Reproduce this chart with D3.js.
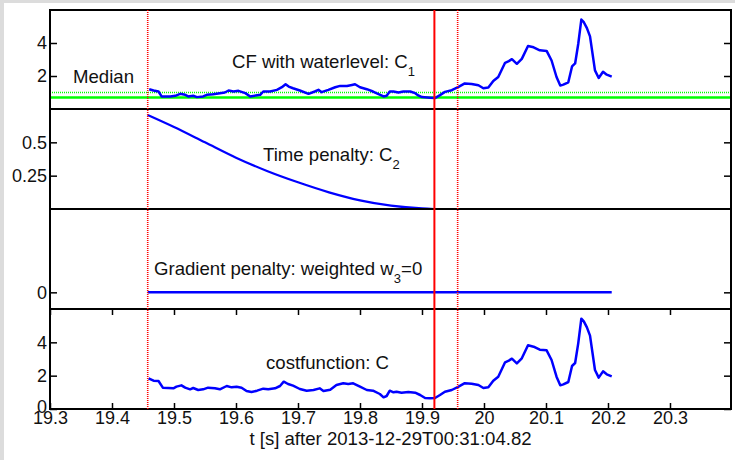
<!DOCTYPE html>
<html>
  <head>
    <title>costfunction</title>
    <script src="https://cdn.jsdelivr.net/npm/d3@7/dist/d3.min.js"></script>
    <style>
      body {
        margin: 0;
        background: white;
      }
      svg text {
        font-family: "Liberation Sans", Arial, Helvetica, sans-serif;
        fill: #111;
      }
    </style>
  </head>
  <body>
    <script>
    // x axis ticks
    var xTicks = [19.3, 19.4, 19.5, 19.6, 19.7, 19.8, 19.9, 20, 20.1, 20.2, 20.3];
    var xTickLabels = ["19.3", "19.4", "19.5", "19.6", "19.7", "19.8", "19.9", "20", "20.1", "20.2", "20.3"];

    // vertical red markers: start, chosen point, end
    var markerTimes = [19.4576, 19.92, 19.9575];
    var markerSolid = [false, true, false];

    // horizontal green levels in panel 1 (median, waterlevel)
    var levelValues = [0.70, 1.0];
    var levelDotted = [false, true];

    // C1 before the chosen point
    var c1HeadT = [19.460, 19.467, 19.475, 19.480, 19.494, 19.502, 19.510, 19.518, 19.523, 19.531, 19.537, 19.547, 19.553, 19.563, 19.574, 19.582, 19.588, 19.596, 19.604, 19.615, 19.623, 19.639, 19.644, 19.655, 19.666, 19.674, 19.680, 19.685, 19.692, 19.703, 19.717, 19.727, 19.733, 19.738, 19.749, 19.760, 19.768, 19.779, 19.787, 19.792, 19.800, 19.811, 19.821, 19.829, 19.838, 19.843, 19.848, 19.854, 19.862, 19.870, 19.881, 19.889, 19.894, 19.900, 19.913];
    var c1HeadV = [1.20, 1.12, 1.06, 0.76, 0.76, 0.80, 0.92, 0.86, 0.76, 0.80, 0.72, 0.76, 0.86, 0.90, 0.96, 1.00, 1.12, 1.06, 1.10, 0.96, 0.76, 0.86, 1.06, 1.06, 1.16, 1.32, 1.50, 1.36, 1.26, 1.12, 0.92, 1.06, 1.16, 1.02, 1.16, 1.32, 1.40, 1.40, 1.46, 1.50, 1.32, 1.20, 1.06, 0.92, 0.76, 0.80, 1.06, 1.06, 1.00, 1.06, 1.06, 0.96, 0.82, 0.72, 0.68];

    // costfunction C before the chosen point
    var costHeadT = [19.459, 19.467, 19.475, 19.482, 19.499, 19.504, 19.512, 19.518, 19.526, 19.531, 19.539, 19.547, 19.555, 19.566, 19.574, 19.585, 19.593, 19.601, 19.609, 19.617, 19.625, 19.634, 19.644, 19.652, 19.663, 19.671, 19.677, 19.684, 19.692, 19.703, 19.714, 19.725, 19.735, 19.741, 19.752, 19.762, 19.773, 19.781, 19.789, 19.800, 19.811, 19.821, 19.832, 19.838, 19.843, 19.848, 19.854, 19.859, 19.867, 19.878, 19.889, 19.897, 19.905, 19.913];
    var costHeadV = [1.84, 1.70, 1.68, 1.28, 1.24, 1.34, 1.42, 1.28, 1.18, 1.26, 1.14, 1.18, 1.28, 1.24, 1.18, 1.38, 1.30, 1.34, 1.28, 1.08, 1.02, 1.10, 1.22, 1.18, 1.24, 1.38, 1.64, 1.50, 1.40, 1.20, 1.10, 1.14, 1.24, 1.08, 1.16, 1.44, 1.54, 1.50, 1.54, 1.34, 1.14, 1.10, 0.90, 0.70, 0.78, 1.10, 1.00, 1.04, 0.98, 1.02, 0.98, 0.84, 0.66, 0.64];

    // after the chosen point C == C1
    var tailT = [19.921, 19.929, 19.937, 19.948, 19.959, 19.969, 19.980, 19.991, 19.999, 20.007, 20.015, 20.023, 20.034, 20.040, 20.045, 20.053, 20.061, 20.071, 20.080, 20.090, 20.101, 20.109, 20.117, 20.123, 20.128, 20.136, 20.142, 20.147, 20.152, 20.157, 20.161, 20.166, 20.171, 20.179, 20.185, 20.192, 20.198, 20.206];
    var tailV = [0.66, 0.84, 1.04, 1.14, 1.34, 1.55, 1.52, 1.44, 1.26, 1.30, 1.70, 1.94, 2.80, 2.90, 3.02, 2.74, 3.04, 3.82, 3.74, 3.56, 3.52, 2.94, 1.94, 1.42, 1.48, 1.62, 2.58, 2.76, 3.94, 5.42, 5.26, 4.90, 4.40, 2.34, 1.88, 2.26, 2.08, 1.96];

    // time penalty C2
    var c2T = [19.4576, 19.50, 19.55, 19.60, 19.65, 19.70, 19.75, 19.80, 19.85, 19.90, 19.92];
    var c2V = [0.705, 0.615, 0.50, 0.385, 0.285, 0.20, 0.125, 0.065, 0.025, 0.004, 0];

    // gradient penalty (weighted zero)
    var gradT = [19.4576, 20.206];
    var gradV = [0, 0];

    var W = 735, H = 460;
    var left = 50, right = 731;

    var svg = d3.select("body").append("svg")
      .attr("width", W)
      .attr("height", H);

    svg.append("rect").attr("width", W).attr("height", H).attr("fill", "white");
    svg.append("rect").attr("width", W).attr("height", 3).attr("fill", "#dcdcdc");
    svg.append("rect").attr("width", 4).attr("height", H).attr("fill", "#dcdcdc");

    var x = d3.scaleLinear().domain([19.3, 20.3984]).range([left, right]);

    var panels = [
      {top: 10, bottom: 109, domain: [0, 6], ticks: [2, 4], fmt: String},
      {top: 109, bottom: 209, domain: [0, 0.75], ticks: [0.25, 0.5], fmt: String},
      {top: 209, bottom: 309, domain: [-0.2, 1], ticks: [0], fmt: String},
      {top: 309, bottom: 409, domain: [0, 6], ticks: [0, 2, 4], fmt: String}
    ];
    panels.forEach(function (p) {
      p.y = d3.scaleLinear().domain(p.domain).range([p.bottom, p.top]);
    });

    function zip(t, v) {
      return t.map(function (d, i) { return [d, v[i]]; });
    }

    function drawLine(p, data, width, curve) {
      var line = d3.line()
        .x(function (d) { return x(d[0]); })
        .y(function (d) { return p.y(d[1]); })
        .curve(curve || d3.curveLinear);
      svg.append("path")
        .datum(data)
        .attr("d", line)
        .attr("fill", "none")
        .attr("stroke", "#0000ff")
        .attr("stroke-width", width)
        .attr("stroke-linejoin", "round");
    }

    // green levels in panel 1
    levelValues.forEach(function (v, i) {
      svg.append("line")
        .attr("x1", left).attr("x2", right)
        .attr("y1", panels[0].y(v)).attr("y2", panels[0].y(v))
        .attr("stroke", "#00ff00")
        .attr("stroke-width", levelDotted[i] ? 1.5 : 2.5)
        .attr("stroke-dasharray", levelDotted[i] ? "1,1" : null);
    });

    drawLine(panels[0], zip(c1HeadT, c1HeadV).concat(zip(tailT, tailV)), 2.5);
    drawLine(panels[1], zip(c2T, c2V), 2.2, d3.curveMonotoneX);
    drawLine(panels[2], zip(gradT, gradV), 2.5);
    drawLine(panels[3], zip(costHeadT, costHeadV).concat(zip(tailT, tailV)), 2.5);

    // panel frames and y ticks
    panels.forEach(function (p, k) {
      svg.append("rect")
        .attr("x", left).attr("y", p.top)
        .attr("width", right - left).attr("height", p.bottom - p.top)
        .attr("fill", "none").attr("stroke", "black").attr("stroke-width", 2);

      var ly = d3.axisLeft(p.y).tickValues(p.ticks).tickSize(-7).tickPadding(3).tickFormat(p.fmt);
      var gl = svg.append("g").attr("transform", "translate(" + left + ",0)").call(ly);
      var ry = d3.axisRight(p.y).tickValues(p.ticks).tickSize(-7).tickFormat("");
      var gr = svg.append("g").attr("transform", "translate(" + right + ",0)").call(ry);
      [gl, gr].forEach(function (g) {
        g.select(".domain").remove();
        g.selectAll(".tick line").attr("stroke", "black").attr("stroke-width", 1.5);
      });
      gl.selectAll("text").attr("font-size", 18).attr("fill", "#111")
        .attr("font-family", "'Liberation Sans', Arial, sans-serif");
      // bottom "0" sits in the corner, lift it a little
      if (k === 3) gl.selectAll("text").filter(function (d) { return d === 0; }).attr("dy", "0.2em");
    });

    // x ticks on bottom panel, inward at top and bottom
    var p4 = panels[3];
    var xb = d3.axisBottom(x).tickValues(xTicks).tickSize(-6).tickPadding(2)
      .tickFormat(function (d, i) { return xTickLabels[i]; });
    var gxb = svg.append("g").attr("transform", "translate(0," + p4.bottom + ")").call(xb);
    var xt = d3.axisTop(x).tickValues(xTicks).tickSize(-6).tickFormat("");
    var gxt = svg.append("g").attr("transform", "translate(0," + p4.top + ")").call(xt);
    [gxb, gxt].forEach(function (g) {
      g.select(".domain").remove();
      g.selectAll(".tick line").attr("stroke", "black").attr("stroke-width", 1.5);
    });
    gxb.selectAll("text").attr("font-size", 18).attr("fill", "#111")
      .attr("font-family", "'Liberation Sans', Arial, sans-serif");

    // red markers
    markerTimes.forEach(function (t, i) {
      svg.append("line")
        .attr("x1", x(t)).attr("x2", x(t))
        .attr("y1", panels[0].top).attr("y2", p4.bottom)
        .attr("stroke", "#ff0000")
        .attr("stroke-width", markerSolid[i] ? 2 : 1.6)
        .attr("stroke-dasharray", markerSolid[i] ? null : "1,1");
    });

    // labels
    function label(xp, yp, main, sub, rest) {
      var t = svg.append("text").attr("x", xp).attr("y", yp).attr("font-size", 18.6);
      t.append("tspan").text(main);
      if (sub) {
        t.append("tspan").attr("dy", 8).attr("font-size", 13).text(sub);
        if (rest) t.append("tspan").attr("dy", -8).text(rest);
      }
      return t;
    }
    label(73, 83, "Median");
    label(232, 68, "CF with waterlevel: C", "1");
    label(263, 161, "Time penalty: C", "2");
    label(154, 275, "Gradient penalty: weighted w", "3", "=0");
    label(266, 369, "costfunction: C");

    svg.append("text")
      .attr("x", (left + right) / 2).attr("y", 445)
      .attr("text-anchor", "middle").attr("font-size", 18.6)
      .text("t [s] after 2013-12-29T00:31:04.82");
    </script>
  </body>
</html>
